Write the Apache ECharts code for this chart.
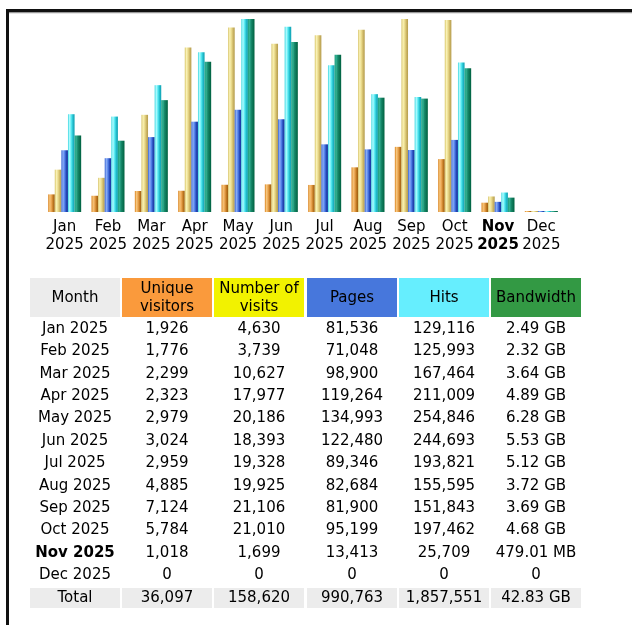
<!DOCTYPE html>
<html><head><meta charset="utf-8">
<script src="https://cdn.jsdelivr.net/npm/echarts@6/dist/echarts.min.js"></script>
<style>html,body{margin:0;padding:0;background:#fff}#c{width:632px;height:625px}</style>
</head><body><div id="c"></div>
<script>
// ---- data ----
const months = ['Jan 2025','Feb 2025','Mar 2025','Apr 2025','May 2025','Jun 2025','Jul 2025','Aug 2025','Sep 2025','Oct 2025','Nov 2025','Dec 2025'];
const currentMonth = 'Nov 2025';
const visitors = [1926,1776,2299,2323,2979,3024,2959,4885,7124,5784,1018,0];
const visits = [4630,3739,10627,17977,20186,18393,19328,19925,21106,21010,1699,0];
const pages = [81536,71048,98900,119264,134993,122480,89346,82684,81900,95199,13413,0];
const hits = [129116,125993,167464,211009,254846,244693,193821,155595,151843,197462,25709,0];
const bandwidthGB = [2.49,2.32,3.64,4.89,6.28,5.53,5.12,3.72,3.69,4.68,0.4678,0];
const bandwidthText = ['2.49 GB','2.32 GB','3.64 GB','4.89 GB','6.28 GB','5.53 GB','5.12 GB','3.72 GB','3.69 GB','4.68 GB','479.01 MB','0'];
const headers = ['Month','Unique\nvisitors','Number of\nvisits','Pages','Hits','Bandwidth'];
const totals = ['Total','36,097','158,620','990,763','1,857,551','42.83 GB'];

// ---- styles ----
const FONT = 'DejaVu Sans';
const headerColors = ['#ececec','#fa9a3c','#f2f200','#4777dc','#66eefe','#339944'];
function grad(stops){ return new echarts.graphic.LinearGradient(0,0,1,0, stops.map((c,i)=>({offset:i/(stops.length-1), color:c}))); }
const barColors = [
  grad(['#d8801c','#f6c67c','#eaa450','#c07820','#9a5a10']),
  grad(['#d6c266','#faf2b6','#eadb8c','#cdb666','#b49c4c']),
  grad(['#3262d2','#8eaef6','#5282ea','#2446b6','#18369e']),
  grad(['#3cd6e0','#b2fcff','#56eaf2','#22bccc','#0ea0b0']),
  grad(['#1e9c7e','#34b294','#17886a','#0a7454','#00603e'])
];
const fmt = v => v.toLocaleString('en-US');

const visMax = Math.max(...visits, ...visitors);
const hitMax = Math.max(...hits, ...pages);
const bwMax = Math.max(...bandwidthGB);

function bar(name, data, axis, ci){
  return {name, type:'bar', data, yAxisIndex:axis, barWidth:6.6, barGap:'0%', barMinHeight:1,
    itemStyle:{color:barColors[ci]}, silent:true, animation:false};
}

// ---- table as graphic ----
const colX = [30,122,214,307,399,491], colW = 90;
const g = [];
// frame
g.push({type:'rect', shape:{x:6,y:9,width:3,height:616}, style:{fill:'#111'}});
g.push({type:'rect', shape:{x:6,y:9,width:626,height:3}, style:{fill:'#111'}});
g.push({type:'rect', shape:{x:9,y:12,width:623,height:1.3}, style:{fill:'#999'}});
headers.forEach((h,i)=>{
  g.push({type:'rect', shape:{x:colX[i],y:278,width:colW,height:39}, style:{fill:headerColors[i]}});
  g.push({type:'text', style:{text:h, x:colX[i]+colW/2, y:298, align:'center', verticalAlign:'middle',
    fontSize:15, fontFamily:FONT, lineHeight:18, fill:'#000'}});
});
months.forEach((m,r)=>{
  const y = 329 + r*22.4;
  const row = [m, fmt(visitors[r]), fmt(visits[r]), fmt(pages[r]), fmt(hits[r]), bandwidthText[r]];
  row.forEach((t,i)=>{
    g.push({type:'text', style:{text:t, x:colX[i]+colW/2, y, align:'center', verticalAlign:'middle',
      fontSize:15, fontFamily:FONT, fontWeight:(i===0 && m===currentMonth)?'bold':'normal', fill:'#000'}});
  });
});
totals.forEach((t,i)=>{
  g.push({type:'rect', shape:{x:colX[i],y:588,width:colW,height:20}, style:{fill:'#ececec'}});
  g.push({type:'text', style:{text:t, x:colX[i]+colW/2, y:598, align:'center', verticalAlign:'middle',
    fontSize:15, fontFamily:FONT, fill:'#000'}});
});

const chart = echarts.init(document.getElementById('c'), null, {renderer:'canvas'});
chart.setOption({
  animation:false,
  backgroundColor:'#fff',
  grid:{left:43, top:19, width:520, height:193},
  xAxis:{type:'category', data:months, axisLine:{show:false}, axisTick:{show:false},
    axisLabel:{interval:0, margin:6, color:'#000', fontFamily:FONT, fontSize:15, lineHeight:18,
      formatter:(v)=>{ const s=v.replace(' ','\n'); return v===currentMonth ? '{b|'+v.split(' ')[0]+'}\n{b|'+v.split(' ')[1]+'}' : s; },
      rich:{b:{fontWeight:'bold', fontFamily:FONT, fontSize:15, lineHeight:18, color:'#000'}}}},
  yAxis:[
    {type:'value', min:0, max:visMax, show:false},
    {type:'value', min:0, max:hitMax, show:false},
    {type:'value', min:0, max:bwMax, show:false}
  ],
  series:[
    bar('Unique visitors', visitors, 0, 0),
    bar('Number of visits', visits, 0, 1),
    bar('Pages', pages, 1, 2),
    bar('Hits', hits, 1, 3),
    bar('Bandwidth', bandwidthGB, 2, 4)
  ],
  graphic:g
});
</script></body></html>
